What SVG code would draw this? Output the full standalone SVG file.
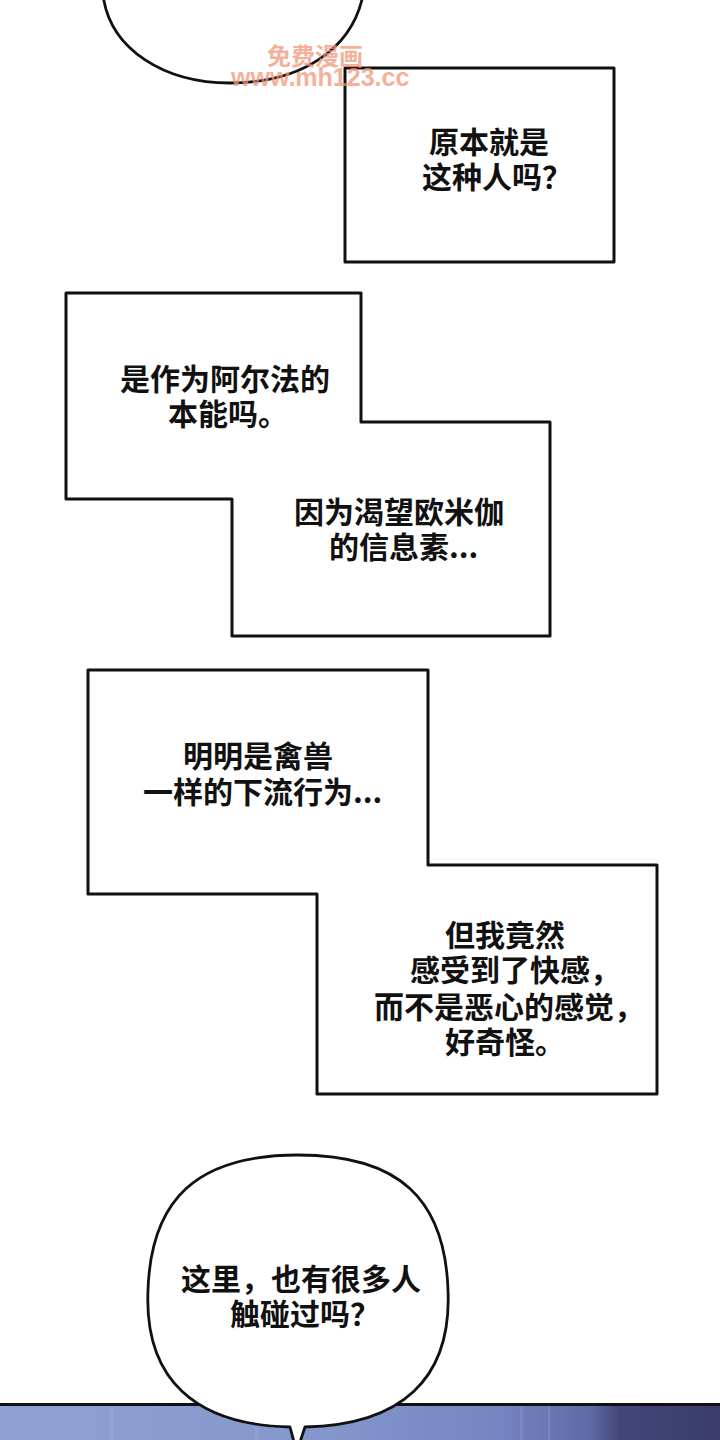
<svg xmlns="http://www.w3.org/2000/svg" width="720" height="1440" viewBox="0 0 720 1440">
  <defs>
    <style>
      .box { fill: #ffffff; stroke: #111111; stroke-width: 3; stroke-linejoin: round; }
      .bubble { fill: #ffffff; stroke: #111111; stroke-width: 2.8; stroke-linejoin: round; }
      .t { font-family: "Noto Sans CJK SC", "Noto Sans", sans-serif; font-size: 30px; font-weight: 700; fill: #111111; }
      .wm { fill: #f0987a; opacity: 0.75; font-weight: 700; }
    </style>
    <linearGradient id="band" x1="0" y1="0" x2="1" y2="0">
      <stop offset="0" stop-color="#8ea2d3"/>
      <stop offset="0.45" stop-color="#8497cc"/>
      <stop offset="0.7" stop-color="#7484c0"/>
      <stop offset="0.82" stop-color="#5f6aa6"/>
      <stop offset="0.86" stop-color="#434679"/>
      <stop offset="1" stop-color="#3a3b6c"/>
    </linearGradient>
  </defs>

  <rect x="0" y="0" width="720" height="1440" fill="#ffffff"/>

  <!-- bottom scene band -->
  <g id="scene-band">
    <rect x="0" y="1405" width="720" height="35" fill="url(#band)"/>
    <rect x="110" y="1406" width="3" height="34" fill="#a4b4de" opacity="0.3"/>
    <rect x="255" y="1406" width="4" height="34" fill="#9eb0dc" opacity="0.3"/>
    <rect x="520" y="1406" width="3" height="34" fill="#8f9fd0" opacity="0.35"/>
    <rect x="548" y="1406" width="2" height="34" fill="#9aa8d6" opacity="0.35"/>
    <line x1="0" y1="1404.5" x2="720" y2="1404.5" stroke="#111111" stroke-width="3"/>
  </g>

  <!-- top bubble -->
  <g id="bubble-top">
    <path class="bubble" d="M103,-5 C110,50 165,83 230,83 C300,83 352,50 363,-5"/>
  </g>

  <!-- box 1 -->
  <g id="box-1">
    <rect class="box" x="345" y="68" width="269" height="194"/>
    <text class="t" x="429" y="153">原本就是</text>
    <text class="t" x="422" y="188">这种人吗？</text>
  </g>

  <!-- box 2 -->
  <g id="box-2">
    <path class="box" d="M66,293 L361,293 L361,422 L550,422 L550,636 L232,636 L232,499 L66,499 Z"/>
    <text class="t" x="120" y="390">是作为阿尔法的</text>
    <text class="t" x="168" y="425">本能吗。</text>
    <text class="t" x="294" y="523">因为渴望欧米伽</text>
    <text class="t" x="329" y="558">的信息素...</text>
  </g>

  <!-- box 3 -->
  <g id="box-3">
    <path class="box" d="M88,670 L428,670 L428,865 L657,865 L657,1094 L317,1094 L317,894 L88,894 Z"/>
    <text class="t" x="183" y="767">明明是禽兽</text>
    <text class="t" x="143" y="803">一样的下流行为...</text>
    <text class="t" x="445" y="946">但我竟然</text>
    <text class="t" x="410" y="981">感受到了快感，</text>
    <text class="t" x="374" y="1018">而不是恶心的感觉，</text>
    <text class="t" x="445" y="1053">好奇怪。</text>
  </g>

  <!-- bottom bubble -->
  <g id="bubble-bottom">
    <path class="bubble" d="M298,1155 C400,1155 445,1200 448,1290 C452,1380 400,1425 305,1427 L300,1442 L294,1442 L290,1427 C196,1425 144,1380 148,1290 C151,1200 196,1155 298,1155 Z"/>
    <text class="t" x="181" y="1290">这里，也有很多人</text>
    <text class="t" x="230" y="1325">触碰过吗？</text>
  </g>

  <!-- watermark -->
  <g id="watermark">
    <text class="wm" x="267" y="65" font-family="Noto Sans CJK SC, sans-serif" font-size="24">免费漫画</text>
    <text class="wm" x="231" y="86" font-family="Liberation Sans, Arial, sans-serif" font-size="25">www.mh123.cc</text>
  </g>
</svg>
